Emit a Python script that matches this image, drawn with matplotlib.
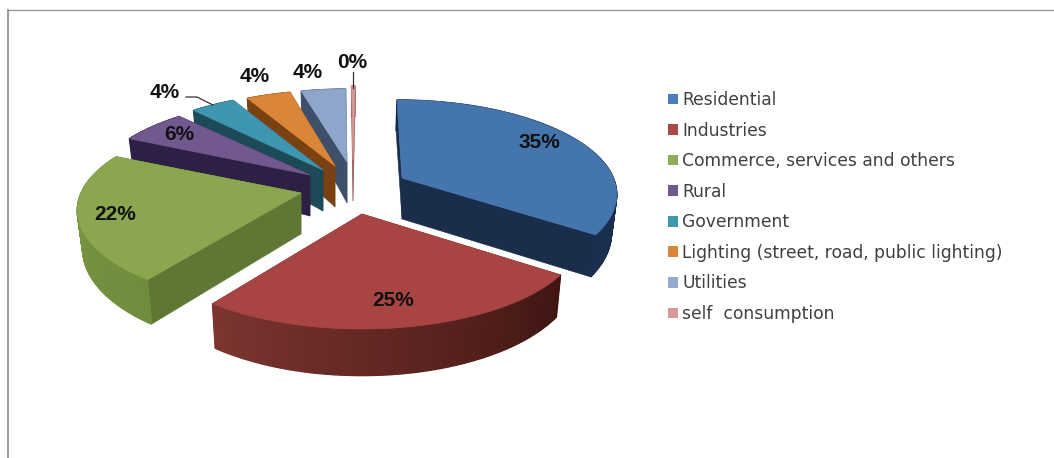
import numpy as np
import matplotlib
matplotlib.use("Agg")
import matplotlib.pyplot as plt
from matplotlib.patches import Patch, Polygon
from matplotlib.lines import Line2D
from matplotlib.colors import to_rgb

# Consumption shares by sector
categories = ["Residential", "Industries", "Commerce, services and others", "Rural",
              "Government", "Lighting (street, road, public lighting)", "Utilities",
              "self  consumption"]
shares = [35, 25, 22, 6, 4, 4, 4, 0.3]

top_colors = ["#4575ad", "#a84543", "#8aa64f", "#71588f", "#3f96b0", "#d98638", "#8ea6cb", "#d79795"]
legend_colors = ["#4a7ebb", "#a94a47", "#8fab56", "#71588f", "#3f97ae", "#d98638", "#93a9cf", "#d59a98"]
wall_near = ["#1a2f4e", "#7c3531", "#7b9844", "#2e1f45", "#1d4a57", "#7a4213", "#3e5069", "#a06060"]
wall_far = ["#152844", "#3f1512", "#708d3e", "#2e1f45", "#1d4a57", "#7a4213", "#3e5069", "#a06060"]
radial_walls = ["#1a2d4a", "#4a1a17", "#5f7734", "#2e1f45", "#1d4a57", "#7a4213", "#3e5069", "#a06060"]

# Exploded position of each slice's sharp tip, and the centre its rim is swept around
tips = [(402, 178), (362, 214), (301, 193), (310, 175), (323, 170), (335, 166), (347, 162), (353, 160)]
rim_centres = [(397, 175), (362, 215), (297, 191), (310, 173), (324, 167), (338, 165), (349, 164), (355, 161)]
label_pos = [(539, 142), (393, 301), (115, 214), (179, 135), (165, 92), (255, 76), (308, 73), (352, 62)]
draw_order = [7, 6, 5, 4, 3, 2, 0, 1]

RX, RY, PERSP = 215.0, 90.5, 0.206
TIP_DEPTH, RIM_DEPTH = 41.0, 37.0
VANISH_X, CONVERGE = 350.0, 0.02

fig = plt.figure(figsize=(10.54, 4.58), dpi=100)
ax = fig.add_axes([0, 0, 1, 1])
ax.set_xlim(0, 1054)
ax.set_ylim(458, 0)
ax.axis("off")


def rim(centre, theta):
    # Perspective-foreshortened point on the slice's outer edge
    p = 1.0 / (1.0 + PERSP * np.cos(theta))
    return centre[0] + RX * np.sin(theta) * p, centre[1] - RY * np.cos(theta) * p, p


def lower(x):
    # Vertical edges lean slightly towards the vanishing line
    return x + (VANISH_X - x) * CONVERGE


edges = np.concatenate([[0], np.cumsum(shares)]) / sum(shares) * 2 * np.pi

for z, i in enumerate(draw_order):
    tip = tips[i]
    th = np.linspace(edges[i], edges[i + 1], max(8, int(np.degrees(edges[i + 1] - edges[i]) * 1.5)))
    x, y, p = rim(rim_centres[i], th)
    depth = RIM_DEPTH * p
    xl = lower(x)
    base = 10 + z * 3

    # Flat side walls running from the tip to both ends of the arc
    for end in (0, -1):
        quad = [tip, (x[end], y[end]), (xl[end], y[end] + depth[end]), (tip[0], tip[1] + TIP_DEPTH)]
        ax.add_patch(Polygon(quad, closed=True, fc=radial_walls[i], ec=radial_walls[i], lw=0.4, zorder=base))

    # Curved outer wall, shaded strip by strip
    c0, c1 = np.array(to_rgb(wall_far[i])), np.array(to_rgb(wall_near[i]))
    for k in range(len(th) - 1):
        t = k / max(1, len(th) - 2)
        col = tuple(c0 + (c1 - c0) * t)
        quad = [(x[k], y[k]), (x[k + 1], y[k + 1]), (xl[k + 1], y[k + 1] + depth[k + 1]), (xl[k], y[k] + depth[k])]
        ax.add_patch(Polygon(quad, closed=True, fc=col, ec=col, lw=1.0, zorder=base + 1))

    # Top face
    face = np.column_stack([np.r_[tip[0], x], np.r_[tip[1], y]])
    ax.add_patch(Polygon(face, closed=True, fc=top_colors[i], ec=top_colors[i], lw=0.5, zorder=base + 2))

total = sum(shares)
for i, (lx, ly) in enumerate(label_pos):
    ax.text(lx, ly, f"{shares[i] / total * 100:.0f}%", ha="center", va="center", fontsize=15,
            fontweight="bold", family="Liberation Sans", color="#111111", zorder=60)

# Leader lines for the small slices
ax.plot([186, 197, 213], [97, 97, 105], color="#333333", lw=0.9, zorder=61)
ax.plot([353, 353], [72, 88], color="#333333", lw=0.9, zorder=61)

handles = [Patch(fc=c, ec="none") for c in legend_colors]
leg = ax.legend(handles, categories, loc="upper left", bbox_to_anchor=(668, 91), bbox_transform=ax.transData,
                frameon=False, ncol=1, labelspacing=0.736, handlelength=0.585, handleheight=0.585,
                handletextpad=0.24, borderpad=0, borderaxespad=0,
                prop={"family": "DejaVu Sans", "size": 12.3})
for t in leg.get_texts():
    t.set_color("#404040")

# Outer chart frame: left and top edges only reach the canvas
fig.add_artist(Line2D([8 / 1054, 8 / 1054], [0, 1 - 10 / 458], color="#9a9a9a", lw=1.4))
fig.add_artist(Line2D([8 / 1054, 1], [1 - 10 / 458, 1 - 10 / 458], color="#9a9a9a", lw=1.0))

fig.savefig("out.png", dpi=100)
